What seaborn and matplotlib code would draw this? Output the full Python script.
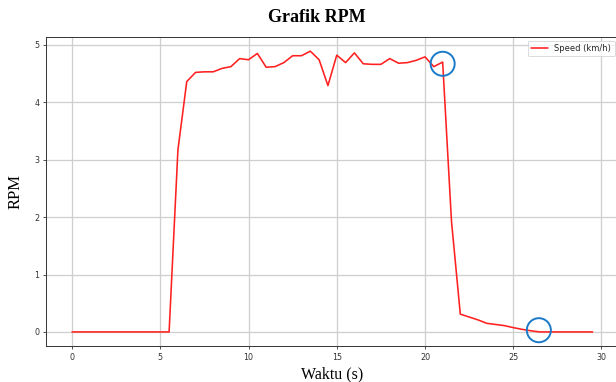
import numpy as np
import pandas as pd
import matplotlib
matplotlib.use("Agg")
import matplotlib.pyplot as plt
import seaborn as sns

# ---- data ----
time_s = [0.0, 0.5, 1.0, 1.5, 2.0, 2.5, 3.0, 3.5, 4.0, 4.5, 5.0, 5.5,
          6.0, 6.5, 7.0, 7.5, 8.0, 8.5, 9.0, 9.5, 10.0, 10.5, 11.0, 11.5,
          12.0, 12.5, 13.0, 13.5, 14.0, 14.5, 15.0, 15.5, 16.0, 16.5, 17.0, 17.5,
          18.0, 18.5, 19.0, 19.5, 20.0, 20.5, 21.0, 21.5, 22.0, 22.5, 23.0, 23.5,
          24.0, 24.5, 25.0, 25.5, 26.0, 26.5, 27.0, 27.5, 28.0, 28.5, 29.0, 29.5]
speed = [0, 0, 0, 0, 0, 0, 0, 0, 0, 0, 0, 0,
         3.17, 4.36, 4.52, 4.53, 4.53, 4.59, 4.62, 4.76, 4.74, 4.85, 4.61, 4.62,
         4.69, 4.81, 4.81, 4.89, 4.74, 4.29, 4.82, 4.69, 4.86, 4.67, 4.66, 4.66,
         4.76, 4.68, 4.69, 4.73, 4.79, 4.62, 4.70, 1.93, 0.31, 0.26, 0.21, 0.15,
         0.13, 0.11, 0.075, 0.045, 0.02, 0.0, 0, 0, 0, 0, 0, 0]
highlight_x = [21.0, 26.45]
highlight_y = [4.67, 0.03]

series_label = "Speed (km/h)"
title_text = "Grafik RPM"
xlabel_text = "Waktu (s)"
ylabel_text = "RPM"
xticks = [0, 5, 10, 15, 20, 25, 30]
yticks = [0, 1, 2, 3, 4, 5]

df = pd.DataFrame({"t": time_s, "v": speed})
hl = pd.DataFrame({"t": highlight_x, "v": highlight_y})

sns.set_theme(style="ticks")
plt.rcParams["font.family"] = ["DejaVu Sans"]

fig = plt.figure(figsize=(6.16, 3.82), dpi=100)
ax = fig.add_axes([46 / 616, 36 / 382, 572.7 / 616, 309.5 / 382])

ax.grid(True, color="#cfcfcf", linewidth=0.9, zorder=0)
ax.set_axisbelow(True)

sns.lineplot(data=df, x="t", y="v", ax=ax, color="#ff2020", linewidth=1.15,
             label=series_label, zorder=3)
sns.scatterplot(data=hl, x="t", y="v", ax=ax, s=300, facecolor="none",
                edgecolor="#1a7ac8", linewidth=1.4, zorder=4, legend=False)

ax.set_xticks(xticks)
ax.set_yticks(yticks)
ax.set_xlim(-1.475, 30.975)
ax.set_ylim(-0.245, 5.145)
ax.tick_params(labelsize=5.8, length=2.2, width=0.6, colors="#333333",
               labelcolor="#333333", pad=2.5)
for sp in ax.spines.values():
    sp.set_visible(True)
    sp.set_color("#333333")
    sp.set_linewidth(0.7)

ax.set_xlabel(xlabel_text, family="Liberation Serif", fontsize=11.5,
              color="black", labelpad=3.5)
ax.set_ylabel(ylabel_text, family="Liberation Serif", fontsize=12,
              color="black", labelpad=8)
fig.text(317 / 616, 1 - 18 / 382, title_text, family="Liberation Serif",
         fontsize=13, fontweight="bold", ha="center", va="center", color="black")

leg = ax.legend(loc="upper right", fontsize=6, frameon=True, fancybox=True,
                borderpad=0.4, handlelength=2.0)
leg.get_frame().set_edgecolor("#cccccc")
leg.get_frame().set_linewidth(0.6)

fig.savefig("out.png", dpi=100)
